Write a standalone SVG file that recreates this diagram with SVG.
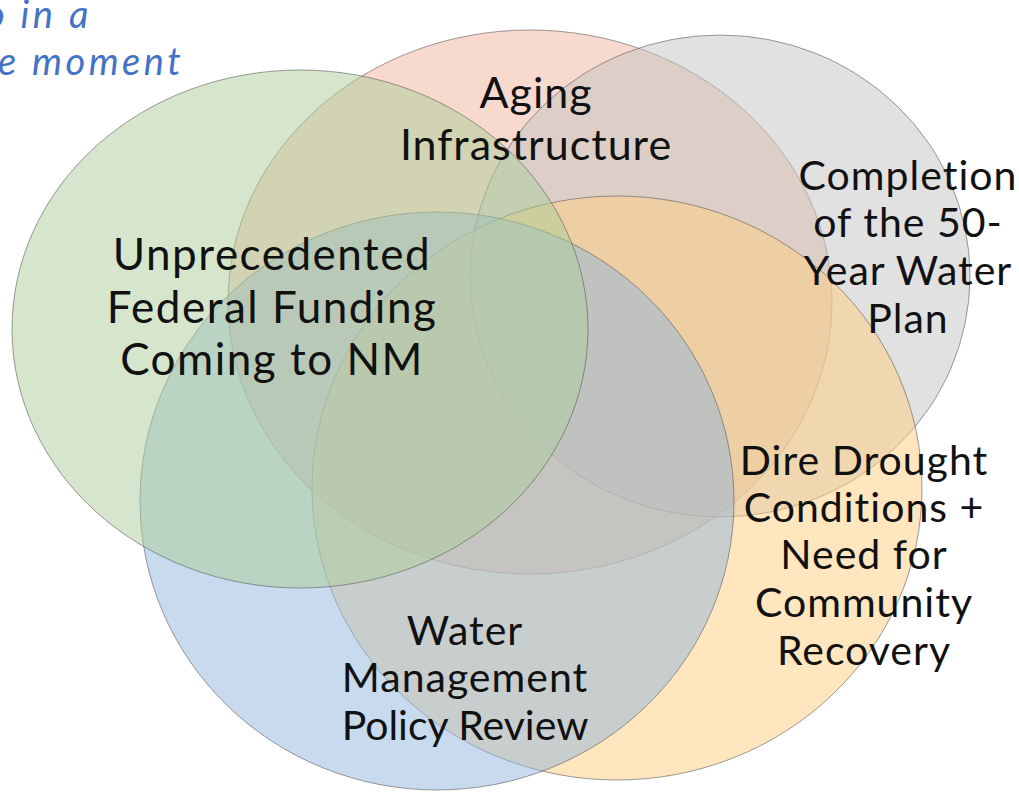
<svg xmlns="http://www.w3.org/2000/svg" width="1019" height="792" viewBox="0 0 1019 792">
<style>
.c{stroke:#5a5a5a;stroke-opacity:0.6;stroke-width:1;fill-opacity:0.5}
.t{font-family:Lato,"Open Sans","DejaVu Sans",sans-serif;font-size:41px;fill:#111;text-anchor:middle;letter-spacing:1px}
.g{font-size:44px;letter-spacing:1.5px}
.a{font-size:43px}
.h{font-family:Lato,"Open Sans","DejaVu Sans",sans-serif;font-style:italic;font-size:38px;fill:#4472C4;letter-spacing:3.5px}
</style>
<rect width="1019" height="792" fill="#ffffff"/>
<text class="h" x="-15" y="28">o in a</text>
<text class="h" x="-2" y="75">e moment</text>
<g id="aging"><ellipse class="c" cx="530" cy="302" rx="302" ry="272" fill="#efb39b"/></g>
<g id="plan"><ellipse class="c" cx="720" cy="276" rx="250" ry="241" fill="#c3c3c3"/></g>
<g id="drought"><ellipse class="c" cx="617" cy="488" rx="305" ry="292" fill="#ffcd7d"/></g>
<g id="policy"><ellipse class="c" cx="437" cy="501" rx="297" ry="289" fill="#91b5dd"/></g>
<g id="funding"><ellipse class="c" cx="300" cy="329" rx="288" ry="259" fill="#abcd99"/></g>
<g id="connectors"></g>
<g id="labels">
<text class="t a" x="536" y="108">Aging</text>
<text class="t a" x="536" y="160">Infrastructure</text>
<text class="t" x="908" y="190">Completion</text>
<text class="t" x="908" y="237">of the 50-</text>
<text class="t" x="908" y="285">Year Water</text>
<text class="t" x="908" y="333">Plan</text>
<text class="t g" x="272" y="270">Unprecedented</text>
<text class="t g" x="272" y="323">Federal Funding</text>
<text class="t g" x="272" y="375">Coming to NM</text>
<text class="t" x="864" y="475">Dire Drought</text>
<text class="t" x="864" y="522">Conditions +</text>
<text class="t" x="864" y="569">Need for</text>
<text class="t" x="864" y="617">Community</text>
<text class="t" x="864" y="665">Recovery</text>
<text class="t" x="465" y="645">Water</text>
<text class="t" x="465" y="692">Management</text>
<text class="t" x="465" y="740" style="letter-spacing:0">Policy Review</text>
</g>
</svg>
